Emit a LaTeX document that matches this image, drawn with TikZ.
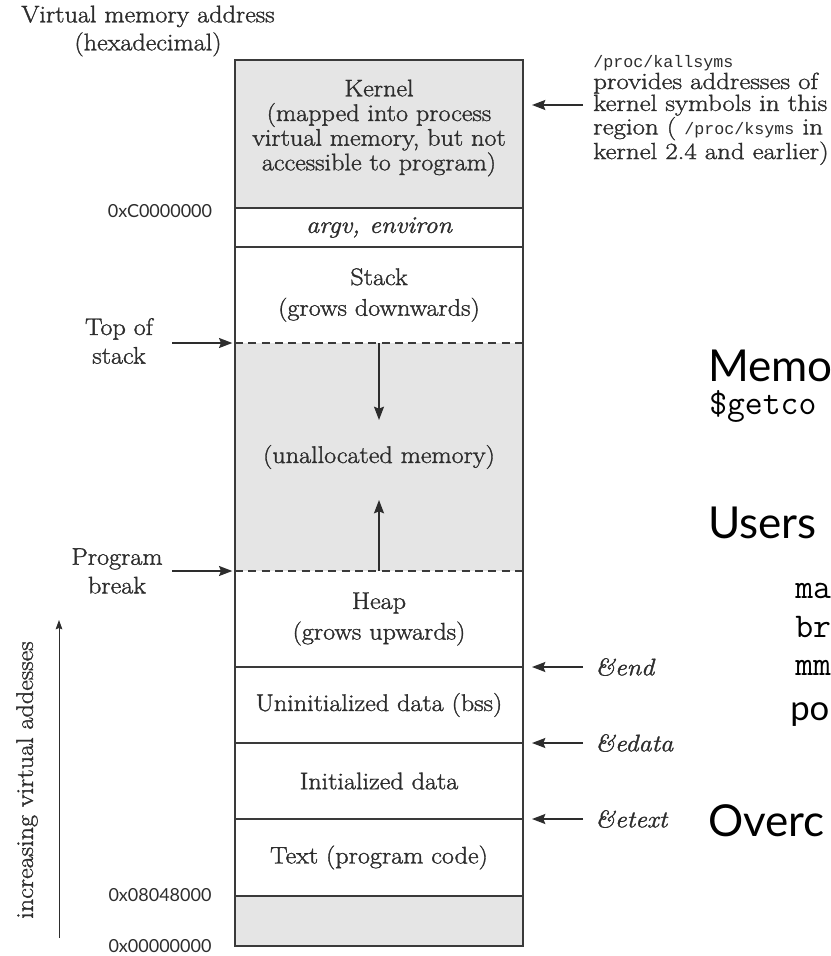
\documentclass[tikz,border=0pt]{standalone}
\usepackage{fontspec}
\setmainfont{Latin Modern Roman}[FakeStretch=1.09, FakeBold=1.4]
\newfontfamily\notefont{Latin Modern Roman}[FakeStretch=1.15, FakeBold=1.4]
\newfontfamily\latofont{Lato}
\newfontfamily\codemono{Liberation Mono}
\newfontfamily\slidemono{Latin Modern Mono}
\usetikzlibrary{arrows.meta}
\definecolor{memgray}{RGB}{229,229,229}
\definecolor{inkgray}{RGB}{45,45,45}
\definecolor{linegray}{RGB}{58,58,58}
\newcommand\diasize[1]{\fontsize{18}{#1}\selectfont}
\begin{document}
\begin{tikzpicture}[x=0.75pt,y=-0.75pt,
  region/.style={minimum width=216pt, inner sep=0pt, outer sep=0pt, draw=none,
                 text=inkgray, align=center, font=\diasize{23}},
  lbl/.style={text=inkgray, align=center, inner sep=0pt},
  hexlbl/.style={text=inkgray, inner sep=0pt, font=\latofont\fontsize{13.5}{16}\selectfont},
  divider/.style={draw=linegray, line width=1.6pt},
  dashdiv/.style={draw=linegray, line width=1.2pt, dash pattern=on 6pt off 4pt},
  outline/.style={draw=linegray, line width=1.5pt},
  arr/.style={draw=inkgray, line width=1.2pt, -{Stealth[length=10pt,width=7.5pt,inset=1.5pt]}},
  thinarr/.style={draw=inkgray, line width=0.7pt, -{Stealth[length=7pt,width=5pt,inset=1pt]}},
  symlbl/.style={lbl, anchor=west, font=\diasize{20}\itshape},
  slide/.style={anchor=base west, inner sep=0pt, text=black},
  slidebig/.style={slide, font=\latofont\fontsize{33}{40}\selectfont},
  slidecode/.style={slide, font=\slidemono\fontsize{26}{30}\selectfont},
]
\path[use as bounding box] (0,0) rectangle (831,956);
\clip (0,0) rectangle (831,956);

% ---- memory regions ----
\node[region, fill=memgray, minimum height=111pt] (kernel) at (379,134) {};
\node[region, minimum height=29.25pt, font=\diasize{20}\itshape] (argv) at (379,227.5) {argv, environ};
\node[region, minimum height=72pt] (stack) at (379,295) {Stack\\(grows downwards)};
\node[region, fill=memgray, minimum height=171pt] (unalloc) at (379,457) {(unallocated memory)};
\node[region, minimum height=72pt] (heap) at (379,619) {Heap\\(grows upwards)};
\node[region, minimum height=57pt] (bss) at (379,705) {Uninitialized data (bss)};
\node[region, minimum height=57pt] (init) at (379,781) {Initialized data};
\node[region, minimum height=57.75pt] (textseg) at (379,857.5) {Text (program code)};
\node[region, fill=memgray, minimum height=37.5pt] (low) at (379,921) {};

\node[lbl, font=\diasize{18.5}] (kerneltext) at (379,128)
  {Kernel\\(mapped into process\\virtual memory, but not\\accessible to program)};

\draw[divider] (kernel.south west) -- (kernel.south east);
\draw[divider] (argv.south west) -- (argv.south east);
\draw[dashdiv] (stack.south west) -- (stack.south east);
\draw[dashdiv] (unalloc.south west) -- (unalloc.south east);
\draw[divider] (heap.south west) -- (heap.south east);
\draw[divider] (bss.south west) -- (bss.south east);
\draw[divider] (init.south west) -- (init.south east);
\draw[divider] (textseg.south west) -- (textseg.south east);
\draw[outline] (kernel.north west) rectangle (low.south east);

% growth arrows
\coordinate (downtip) at (379,420);
\coordinate (uptip) at (379,500);
\draw[arr] (unalloc.north) -- (downtip);
\draw[arr] (unalloc.south) -- (uptip);

% ---- left labels ----
\node[lbl, font=\diasize{21}] (vma) at (148,31) {Virtual memory address\\(hexadecimal)};
\node[lbl, font=\diasize{21.5}] (tos) at (119,341) {Top of\\stack};
\node[lbl, font=\diasize{21.5}] (pbrk) at (117,571) {Program\\break};
\coordinate (tosA) at (172,343);
\coordinate (pbA) at (172,571);
\draw[arr, shorten >=2pt] (tosA) -- (unalloc.north west);
\draw[arr, shorten >=2pt] (pbA) -- (unalloc.south west);

\node[hexlbl] (hexC) at (160,211) {0xC0000000};
\node[hexlbl] (hex08) at (160,895) {0x08048000};
\node[hexlbl] (hex00) at (160,946) {0x00000000};

\node[lbl, rotate=90, font=\diasize{21}] (incr) at (27,780) {increasing virtual addesses};
\coordinate (incA) at (59,938);
\coordinate (incB) at (59,620);
\draw[thinarr] (incA) -- (incB);

% ---- right annotations ----
\node[lbl, align=left, anchor=west, font=\notefont\fontsize{17.5}{16.4}\selectfont] (note) at (593,110)
  {{\codemono\fontsize{12.5}{16.4}\selectfont /proc/kallsyms}\\
   provides addresses of\\
   kernel symbols in this\\
   region ( {\codemono\fontsize{12.5}{16.4}\selectfont /proc/ksyms} in\\
   kernel 2.4 and earlier)};
\coordinate (noteA) at (583,105);
\coordinate (noteB) at (532,105);
\draw[arr] (noteA) -- (noteB);

\node[symlbl] (endlbl) at (595,667) {\&end};
\node[symlbl] (edatalbl) at (595,743) {\&edata};
\node[symlbl] (etextlbl) at (595,819) {\&etext};
\coordinate (endA) at (583,667);
\coordinate (edataA) at (583,743);
\coordinate (etextA) at (583,819);
\draw[arr, shorten >=6.75pt] (endA) -- (heap.south east);
\draw[arr, shorten >=6.75pt] (edataA) -- (bss.south east);
\draw[arr, shorten >=6.75pt] (etextA) -- (init.south east);

% ---- slide text at the right edge ----
\node[slidebig] (memo) at (708,381) {Memo};
\node[slidecode] (getco) at (709,414) {\$getco};
\node[slidebig] (users) at (708,538) {Users};
\node[slidecode] (ma) at (795,598) {ma};
\node[slidecode] (br) at (795,637) {br};
\node[slidecode] (mm) at (795,675) {mm};
\node[slide, font=\latofont\fontsize{26}{30}\selectfont] (po) at (790,720) {po};
\node[slidebig] (overc) at (708,836) {Overc};
\end{tikzpicture}
\end{document}
